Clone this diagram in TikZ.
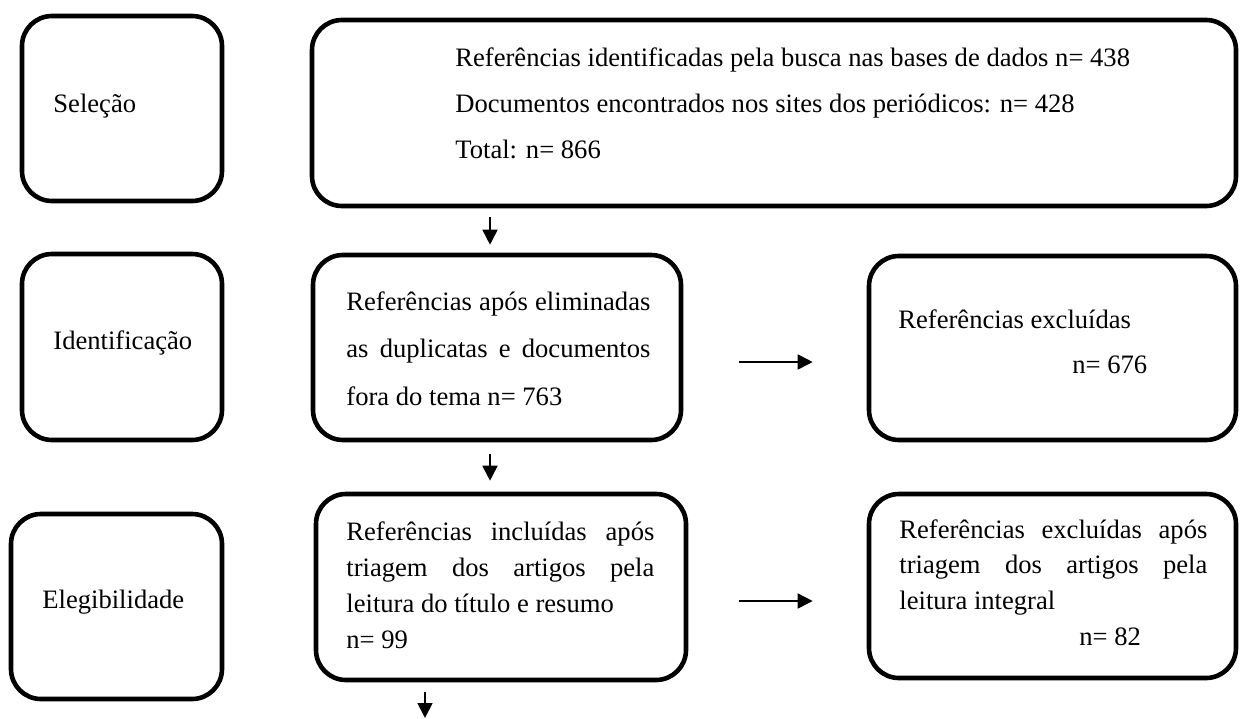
\documentclass[tikz,border=0pt]{standalone}
\usepackage{fontspec}
\setmainfont{Liberation Serif}
\usetikzlibrary{arrows.meta}
\tikzset{
  caixa/.style={draw, line width=2.3pt, rounded corners=15pt, inner sep=0pt},
  seta/.style={line width=0.85pt, -{Triangle[length=7.5pt,width=7.5pt]}},
  texto/.style={anchor=base west, inner sep=0pt, align=left, font=\fontsize{13.3}{23}\selectfont},
}
\begin{document}
\begin{tikzpicture}[x=0.5pt, y=-0.5pt]
    \useasboundingbox (0,0) rectangle (1241,718);
    % etapas (coluna da esquerda)
    \node[caixa, minimum width=100pt, minimum height=92.5pt] (sel) at (122,108.5) {};
    \node[caixa, minimum width=100pt, minimum height=93pt] (ide) at (122,347) {};
    \node[caixa, minimum width=105.5pt, minimum height=92.5pt] (ele) at (116.5,606.5) {};
    \node[texto] (selt) at (53,112) {Seleção};
    \node[texto] (idet) at (53,349) {Identificação};
    \node[texto] (elet) at (42,608) {Elegibilidade};

    % busca nas bases (base = última linha)
    \node[caixa, minimum width=462pt, minimum height=93pt] (busca) at (774,113) {};
    \node[texto] (buscat) at (455,158) {Referências identificadas pela busca nas bases de dados n= 438\\
        Documentos encontrados nos sites dos periódicos: n= 428\\
        Total: n= 866};

    % duplicatas
    \node[caixa, minimum width=184pt, minimum height=92.5pt] (dup) at (497,347.5) {};
    \node[texto, font=\fontsize{13.3}{23.75}\selectfont] (dupt) at (346,405)
        {\makebox[152pt][s]{Referências após eliminadas}\\
         \makebox[152pt][s]{as duplicatas e documentos}\\
         fora do tema n= 763};

    % excluídas
    \node[caixa, minimum width=183.5pt, minimum height=92pt] (exc1) at (1052.5,348) {};
    \node[texto, font=\fontsize{13.3}{22.5}\selectfont] (exc1t) at (898,373)
        {Referências excluídas\\\hspace*{87pt}n= 676};

    % incluídas após triagem
    \node[caixa, minimum width=185pt, minimum height=93pt] (inc) at (501,587) {};
    \node[texto, font=\fontsize{13.3}{18}\selectfont] (inct) at (346,648)
        {\makebox[154pt][s]{Referências incluídas após}\\
         \makebox[154pt][s]{triagem dos artigos pela}\\
         leitura do título e resumo\\
         n= 99};

    % excluídas após leitura integral
    \node[caixa, minimum width=183.5pt, minimum height=92pt] (exc2) at (1052.5,586) {};
    \node[texto, font=\fontsize{13.3}{17.8}\selectfont] (exc2t) at (899,645)
        {\makebox[154pt][s]{Referências excluídas após}\\
         \makebox[154pt][s]{triagem dos artigos pela}\\
         leitura integral\\
         \hspace*{90pt}n= 82};

    % setas
    \coordinate (d1) at (490,0);
    \coordinate (d3) at (425,718);
    \coordinate (r1) at (0,362);
    \coordinate (r2) at (0,601);
    \draw[seta, shorten <=4.5pt, shorten >=4pt] (busca.south -| d1) -- (dup.north -| d1);
    \draw[seta, shorten <=6pt, shorten >=5.5pt] (dup.south -| d1) -- (inc.north -| d1);
    \draw[seta, shorten <=5pt] (inc.south -| d3) -- (d3);
    \draw[seta, shorten <=28pt, shorten >=27pt] (dup.east |- r1) -- (exc1.west |- r1);
    \draw[seta, shorten <=25.5pt, shorten >=27pt] (inc.east |- r2) -- (exc2.west |- r2);
\end{tikzpicture}
\end{document}
